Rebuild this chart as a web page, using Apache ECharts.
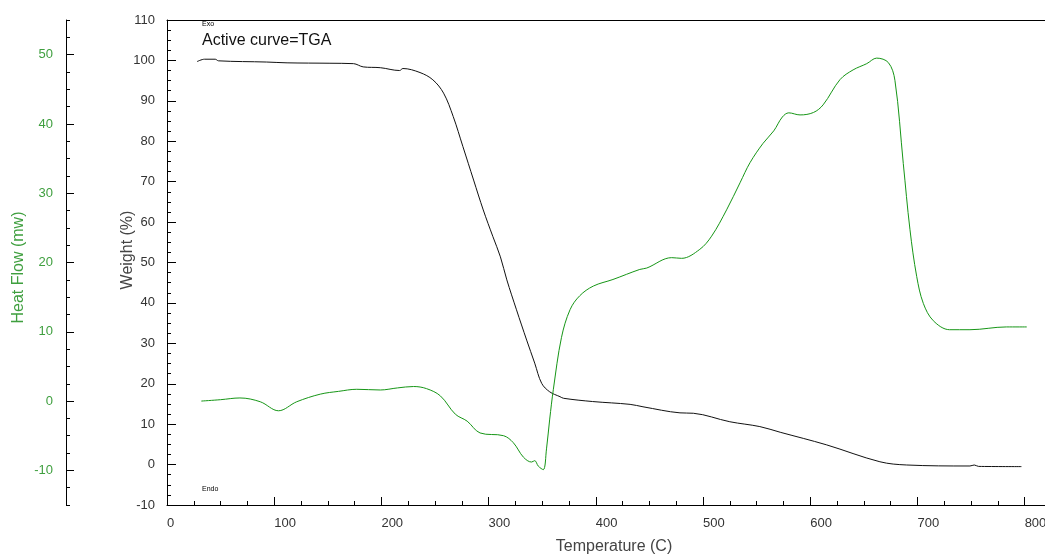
<!DOCTYPE html>
<html>
<head>
<meta charset="utf-8">
<script src="https://cdn.jsdelivr.net/npm/echarts@6/dist/echarts.min.js"></script>
<style>
html, body { margin: 0; padding: 0; background: #fff; }
#chart { width: 1045px; height: 554px; }
</style>
</head>
<body>
<div id="chart"></div>
<script>
// data
const tgaTemp = [28, 35, 45, 48, 93, 112, 152, 174, 183, 199, 217, 220, 236, 248, 258, 267, 276, 286, 295, 304, 311, 317, 326, 335.5, 343, 349.5, 357, 366.6, 370, 397, 432, 444, 478.5, 491, 525, 553, 572, 615, 665, 690, 749, 753, 757, 797];
const tgaWeight = [99.7, 100.3, 100.3, 99.9, 99.6, 99.4, 99.3, 99.2, 98.4, 98.2, 97.5, 98.0, 97.0, 95.2, 91.9, 86.1, 78.7, 70.4, 63.0, 56.4, 51.4, 45.7, 38.3, 30.8, 25.1, 20.1, 18.0, 16.8, 16.4, 15.6, 14.9, 14.3, 12.8, 12.7, 10.6, 9.4, 8.0, 4.9, 0.7, -0.1, -0.35, -0.1, -0.45, -0.5];

const dscTemp = [32, 50, 68, 87, 104, 121, 143, 160, 177, 199, 215, 230, 242, 255, 269, 280, 292, 314, 323, 332.5, 340, 343, 346.4, 351, 354, 357, 360.4, 368, 376, 385, 397.7, 416, 441, 447.5, 470.7, 480, 497, 508, 522, 534.5, 543.8, 556, 566, 574, 580, 590.5, 603, 612, 627.8, 640, 652.7, 662, 672.9, 679, 686.8, 693, 699.3, 705.5, 714.8, 730, 749, 783, 802];
const dscHeatFlow = [0.0, 0.2, 0.45, -0.1, -1.4, -0.1, 1.0, 1.4, 1.7, 1.6, 1.9, 2.1, 1.8, 0.75, -1.9, -2.9, -4.6, -5.0, -6.0, -8.1, -8.8, -8.6, -9.4, -9.9, -6.9, -2.6, 1.7, 9.2, 13.2, 15.2, 16.6, 17.55, 19.0, 19.2, 20.7, 20.6, 21.9, 23.8, 27.6, 31.5, 34.4, 37.2, 39.0, 41.0, 41.6, 41.3, 41.65, 42.75, 46.4, 47.8, 48.7, 49.5, 48.85, 46.3, 34.3, 24.8, 18.0, 14.1, 11.6, 10.3, 10.3, 10.7, 10.7];

// tick positions
const tempTicks = [0, 100, 200, 300, 400, 500, 600, 700, 800];
const tempMinorTicks = [];
for (let t = 25; t < 800; t += 25) if (t % 100) tempMinorTicks.push(t);
const heatTicks = [-10, 0, 10, 20, 30, 40, 50];

const FONT = '"Liberation Sans", Arial, sans-serif';
const GREEN = '#169616';
const GREEN_TEXT = '#3f9f3f';
const TEXT = '#333';
const TITLE = '#444';

const chart = echarts.init(document.getElementById('chart'), null, { renderer: 'canvas' });

function zip(xs, ys) {
    return xs.map((x, i) => [x, ys[i]]);
}

const blackLine = { show: true, onZero: false, lineStyle: { color: '#000', width: 1 } };
const noLine = { show: false, onZero: false };

chart.setOption({
    animation: false,
    backgroundColor: '#fff',
    textStyle: { fontFamily: FONT },
    grid: { left: 167, top: 20, right: 0, bottom: 49, containLabel: false, outerBoundsMode: 'none' },
    xAxis: [
        {
            type: 'value', position: 'bottom', min: 0, max: 819,
            name: 'Temperature (C)', nameLocation: 'middle', nameGap: 34, nameMoveOverlap: false,
            nameTextStyle: { fontSize: 16, color: TITLE, fontFamily: FONT, padding: [0, 0, 0, 16] },
            axisLine: blackLine,
            axisTick: { show: true, inside: true, length: 8, customValues: tempTicks, lineStyle: { color: '#000' } },
            axisLabel: { show: true, customValues: tempTicks, align: 'left', margin: 12, fontSize: 13, color: TEXT, fontFamily: FONT },
            splitLine: { show: false }
        },
        {
            type: 'value', position: 'bottom', min: 0, max: 819,
            axisLine: noLine,
            axisTick: { show: true, inside: true, length: 4, customValues: tempMinorTicks, lineStyle: { color: '#000' } },
            axisLabel: { show: false },
            splitLine: { show: false }
        },
        {
            type: 'value', position: 'top', min: 0, max: 819,
            axisLine: blackLine,
            axisTick: { show: false },
            axisLabel: { show: false },
            splitLine: { show: false }
        }
    ],
    yAxis: [
        {
            type: 'value', position: 'left', min: -10, max: 110, interval: 10,
            name: 'Weight (%)', nameLocation: 'middle', nameGap: 31, nameRotate: 90, nameMoveOverlap: false,
            nameTextStyle: { fontSize: 16, color: TITLE, fontFamily: FONT, padding: [0, 0, 0, 25] },
            axisLine: blackLine,
            axisTick: { show: true, inside: true, length: 9, lineStyle: { color: '#000' } },
            minorTick: { show: true, splitNumber: 4, length: 4, lineStyle: { color: '#000' } },
            axisLabel: { margin: 12, fontSize: 13, color: TEXT, fontFamily: FONT },
            splitLine: { show: false }
        },
        {
            type: 'value', position: 'left', offset: 101, min: -15, max: 55,
            name: 'Heat Flow (mw)', nameLocation: 'middle', nameGap: 39, nameRotate: 90, nameMoveOverlap: false,
            nameTextStyle: { fontSize: 16, color: GREEN_TEXT, fontFamily: FONT, padding: [0, 10, 0, 0] },
            axisLine: blackLine,
            axisTick: { show: true, inside: true, length: 8, customValues: heatTicks, lineStyle: { color: '#000' } },
            axisLabel: { customValues: heatTicks, margin: 13, fontSize: 13, color: GREEN_TEXT, fontFamily: FONT },
            splitLine: { show: false }
        },
        {
            type: 'value', position: 'left', offset: 101, min: -15, max: 55, interval: 2.5,
            axisLine: noLine,
            axisTick: { show: true, inside: true, length: 4, lineStyle: { color: '#000' } },
            axisLabel: { show: false },
            splitLine: { show: false }
        }
    ],
    graphic: [
        { type: 'text', left: 202, top: 21, style: { text: 'Exo', fontSize: 7, fill: '#000', fontFamily: FONT } },
        { type: 'text', left: 202, top: 33, style: { text: 'Active curve=TGA', fontSize: 16, fill: '#111', fontFamily: FONT } },
        { type: 'text', left: 202, top: 486, style: { text: 'Endo', fontSize: 7, fill: '#000', fontFamily: FONT } }
    ],
    series: [
        {
            name: 'TGA', type: 'line', xAxisIndex: 0, yAxisIndex: 0,
            data: zip(tgaTemp, tgaWeight),
            showSymbol: false, smooth: 0.35,
            lineStyle: { color: '#111', width: 1 }
        },
        {
            name: 'DSC', type: 'line', xAxisIndex: 0, yAxisIndex: 1,
            data: zip(dscTemp, dscHeatFlow),
            showSymbol: false, smooth: 0.35,
            lineStyle: { color: GREEN, width: 1 }
        }
    ]
});
</script>
</body>
</html>
